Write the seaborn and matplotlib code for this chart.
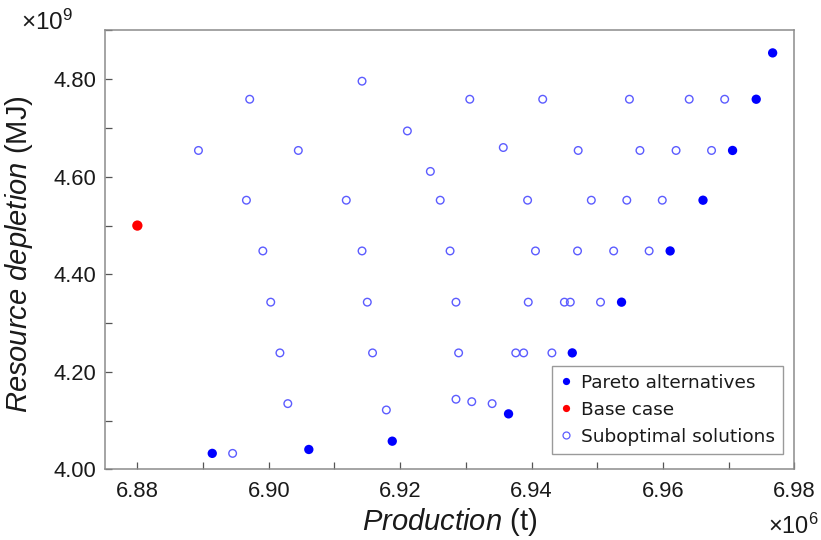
import matplotlib
matplotlib.use("Agg")
import matplotlib.pyplot as plt
from matplotlib.lines import Line2D
from matplotlib.ticker import MultipleLocator, FormatStrFormatter
import numpy as np
import pandas as pd
import seaborn as sns

# Production in units of 10^6 t, resource depletion in units of 10^9 MJ
pareto_production = [6.8914, 6.9061, 6.9188, 6.9365, 6.9462, 6.9537,
                     6.9611, 6.9661, 6.9706, 6.9742, 6.9767]
pareto_depletion = [4.033, 4.041, 4.058, 4.114, 4.239, 4.343,
                    4.448, 4.552, 4.654, 4.759, 4.854]

base_production = [6.880]
base_depletion = [4.500]

subopt_production = [
    # 4.76 level
    6.8971, 6.9306, 6.9417, 6.9549, 6.9640, 6.9694,
    # 4.65 level
    6.8893, 6.9045, 6.9471, 6.9565, 6.9620, 6.9674,
    # scattered upper points
    6.9357, 6.9211, 6.9142, 6.9246,
    # 4.55 level
    6.8966, 6.9118, 6.9261, 6.9394, 6.9491, 6.9545, 6.9599,
    # 4.45 level
    6.8991, 6.9142, 6.9276, 6.9406, 6.9470, 6.9525, 6.9579,
    # 4.34 level
    6.9003, 6.9150, 6.9285, 6.9395, 6.9450, 6.9459, 6.9505,
    # 4.24 level
    6.9017, 6.9158, 6.9289, 6.9376, 6.9388, 6.9431,
    # lower points
    6.9029, 6.9179, 6.9285, 6.9309, 6.9340, 6.8945,
]
subopt_depletion = [
    4.759, 4.759, 4.759, 4.759, 4.759, 4.759,
    4.654, 4.654, 4.654, 4.654, 4.654, 4.654,
    4.660, 4.694, 4.796, 4.611,
    4.552, 4.552, 4.552, 4.552, 4.552, 4.552, 4.552,
    4.448, 4.448, 4.448, 4.448, 4.448, 4.448, 4.448,
    4.343, 4.343, 4.343, 4.343, 4.343, 4.343, 4.343,
    4.239, 4.239, 4.239, 4.239, 4.239, 4.239,
    4.135, 4.122, 4.144, 4.139, 4.135, 4.033,
]

x_ticks = [6.88, 6.90, 6.92, 6.94, 6.96, 6.98]
y_ticks = [4.00, 4.20, 4.40, 4.60, 4.80]

labels = ["Pareto alternatives", "Base case", "Suboptimal solutions"]

df = pd.concat([
    pd.DataFrame({"production": pareto_production, "depletion": pareto_depletion,
                  "group": labels[0]}),
    pd.DataFrame({"production": base_production, "depletion": base_depletion,
                  "group": labels[1]}),
    pd.DataFrame({"production": subopt_production, "depletion": subopt_depletion,
                  "group": labels[2]}),
], ignore_index=True)

sns.set_style("white")
plt.rcParams["font.family"] = ["Liberation Sans", "DejaVu Sans"]
plt.rcParams["mathtext.fontset"] = "custom"
plt.rcParams["mathtext.rm"] = "Liberation Sans"
plt.rcParams["mathtext.it"] = "Liberation Sans:italic"

fig = plt.figure(figsize=(8.21, 5.40), dpi=100)
ax = fig.add_axes([0.1273, 0.1306, 0.8402, 0.8130])

blue = "#0000ff"
light_blue = "#5c5cff"

sns.scatterplot(data=df[df.group == labels[2]], x="production", y="depletion",
                marker="o", s=30, facecolor="none", edgecolor=light_blue,
                linewidth=1.0, ax=ax, legend=False, zorder=2)
sns.scatterplot(data=df[df.group == labels[0]], x="production", y="depletion",
                marker="o", s=45, color=blue, edgecolor="none", linewidth=0,
                ax=ax, legend=False, zorder=3)
sns.scatterplot(data=df[df.group == labels[1]], x="production", y="depletion",
                marker="o", s=55, color="#ff0000", edgecolor="none", linewidth=0,
                ax=ax, legend=False, zorder=3)

ax.set_xlim(6.875, 6.980)
ax.set_ylim(4.00, 4.90)
ax.set_xticks(x_ticks)
ax.set_yticks(y_ticks)
ax.xaxis.set_minor_locator(MultipleLocator(0.01))
ax.yaxis.set_minor_locator(MultipleLocator(0.1))
ax.xaxis.set_major_formatter(FormatStrFormatter("%.2f"))
ax.yaxis.set_major_formatter(FormatStrFormatter("%.2f"))

tick_color = "#555555"
ax.tick_params(axis="both", which="both", direction="in", length=5, width=0.9,
               color=tick_color, labelsize=15.8, labelcolor="#1a1a1a",
               top=False, right=False, bottom=True, left=True)
ax.tick_params(axis="x", which="major", pad=8)
ax.tick_params(axis="y", which="major", pad=6)

for side in ["left", "right", "top", "bottom"]:
    ax.spines[side].set_visible(True)
    ax.spines[side].set_color("#8c8c8c")
    ax.spines[side].set_linewidth(1.1)

ax.set_xlabel(r"$\mathit{Production}$ (t)", fontsize=21, color="#1a1a1a")
ax.set_ylabel(r"$\mathit{Resource\ depletion}$ (MJ)", fontsize=21,
              color="#1a1a1a")
ax.xaxis.set_label_coords(0.5, -0.083)
ax.yaxis.set_label_coords(-0.101, 0.49)
ax.xaxis.label.set_va("top")

# Axis multipliers
fig.text(47 / 821, 1 - 22 / 540, r"$\mathregular{×10^{9}}$", fontsize=17.5,
         ha="center", va="center", color="#1a1a1a")
fig.text(793 / 821, 1 - 526 / 540, r"$\mathregular{×10^{6}}$", fontsize=17,
         ha="center", va="center", color="#1a1a1a")

handles = [
    Line2D([], [], linestyle="none", marker="o", markersize=5.2,
           markerfacecolor=blue, markeredgecolor=blue, markeredgewidth=0),
    Line2D([], [], linestyle="none", marker="o", markersize=5.2,
           markerfacecolor="#ff0000", markeredgecolor="#ff0000", markeredgewidth=0),
    Line2D([], [], linestyle="none", marker="o", markersize=5.0,
           markerfacecolor="none", markeredgecolor=light_blue, markeredgewidth=0.9),
]
leg = ax.legend(handles, labels, loc="lower right",
                bbox_to_anchor=(0.9836, 0.0353), borderaxespad=0,
                frameon=True, fancybox=False, framealpha=1,
                edgecolor="#9a9a9a", handlelength=0.6, handletextpad=0.5,
                borderpad=0.45, labelspacing=0.48,
                prop={"family": "DejaVu Sans", "size": 13.3})
leg.get_frame().set_linewidth(1.0)
for t in leg.get_texts():
    t.set_color("#1a1a1a")

fig.savefig("out.png", dpi=100, facecolor="white")
